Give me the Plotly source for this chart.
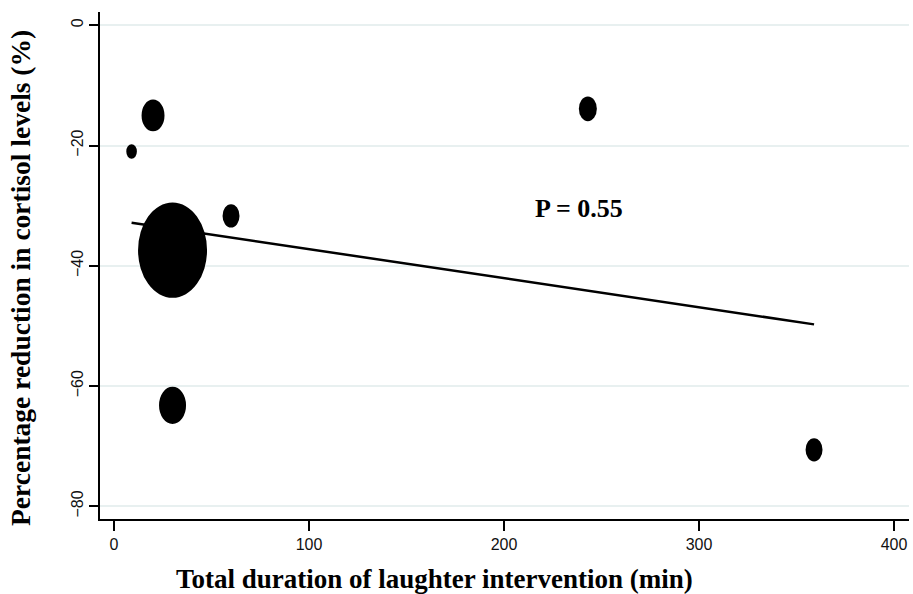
import numpy as np
import plotly.graph_objects as go

# Study-level data: intervention duration, cortisol change and study weight
duration_min = [9, 20, 30, 30, 60, 243, 359]
cortisol_change_pct = [-21.0, -15.0, -37.4, -63.2, -31.7, -13.9, -70.6]
study_weight_pct = [1.6, 7.5, 67.8, 10.4, 4.1, 4.6, 4.1]

# Meta-regression fit
fit_intercept = -32.4
fit_slope = -0.0483
p_value = 0.55

x_ticks = [0, 100, 200, 300, 400]
y_ticks = [0, -20, -40, -60, -80]

W, H = 913, 594
M = dict(l=100, r=4, t=12, b=75)
x_range = [-7.2, 407.7]
y_range = [-82.1, 2.2]

px_per_x = (W - M["l"] - M["r"]) / (x_range[1] - x_range[0])
px_per_y = (H - M["t"] - M["b"]) / (y_range[1] - y_range[0])

fig = go.Figure()

# Weighted bubbles drawn as ellipses (area proportional to weight)
max_w = max(study_weight_pct)
shapes = []
for xv, yv, wv in zip(duration_min, cortisol_change_pct, study_weight_pct):
    d = 69 * np.sqrt(wv / max_w)
    rx = d / 2 / px_per_x
    ry = d * 1.38 / 2 / px_per_y
    shapes.append(dict(type="circle", xref="x", yref="y",
                       x0=xv - rx, x1=xv + rx, y0=yv - ry, y1=yv + ry,
                       fillcolor="black", line=dict(color="black", width=0),
                       layer="above"))

# Invisible points for hover
fig.add_trace(go.Scatter(x=duration_min, y=cortisol_change_pct, mode="markers",
                         marker=dict(size=6, opacity=0), showlegend=False))

# Fitted regression line across the observed duration range
x_fit = np.array([min(duration_min), max(duration_min)])
y_fit = fit_intercept + fit_slope * x_fit
fig.add_trace(go.Scatter(x=x_fit, y=y_fit, mode="lines",
                         line=dict(color="black", width=2.5), showlegend=False))

tick_font = dict(family="Liberation Sans, Arial, sans-serif", size=16, color="#111")
serif = "Liberation Serif, Times New Roman, serif"

fig.update_layout(
    width=W, height=H, margin=M,
    plot_bgcolor="white", paper_bgcolor="white",
    shapes=shapes,
    xaxis=dict(range=x_range, tickvals=x_ticks, showgrid=False, zeroline=False,
               showline=True, linecolor="black", linewidth=2,
               ticks="outside", ticklen=10, tickwidth=2, tickcolor="black",
               tickfont=tick_font),
    yaxis=dict(range=y_range, tickvals=y_ticks, showgrid=True,
               gridcolor="#e8f0f0", gridwidth=2, zeroline=False,
               showline=True, linecolor="black", linewidth=2,
               ticks="outside", ticklen=9, tickwidth=2, tickcolor="black",
               tickangle=-90, tickfont=tick_font),
    annotations=[
        dict(text="<b>Total duration of laughter intervention (min)</b>",
             xref="paper", yref="paper", x=0.4135, y=0, yshift=-60,
             xanchor="center", yanchor="middle", showarrow=False,
             font=dict(family=serif, size=27, color="black")),
        dict(text="<b>Percentage reduction in cortisol levels (%)</b>",
             xref="paper", yref="paper", x=0, xshift=-79.5, y=0.4744,
             xanchor="center", yanchor="middle", textangle=-90,
             showarrow=False, font=dict(family=serif, size=27.5, color="black")),
        dict(text=f"<b>P = {p_value}</b>", xref="x", yref="y", x=238.5, y=-30.4,
             showarrow=False, font=dict(family=serif, size=26, color="black")),
    ],
)

fig.write_html("out.html")
